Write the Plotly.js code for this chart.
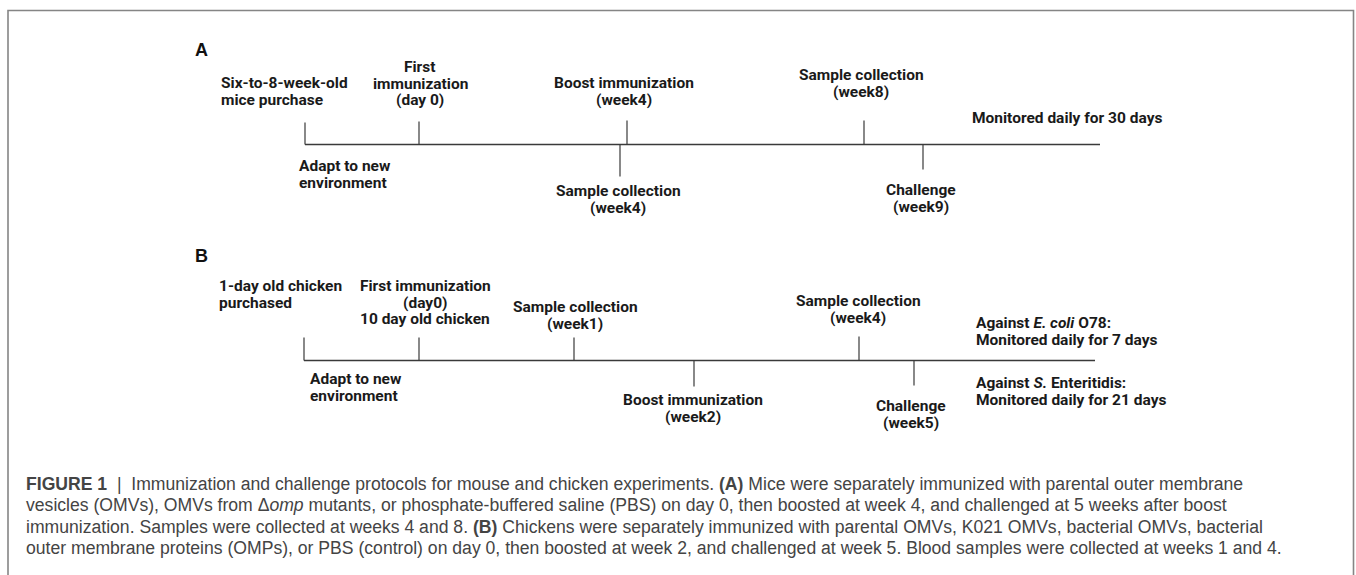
<!DOCTYPE html>
<html>
<head>
<meta charset="utf-8">
<script src="https://cdn.plot.ly/plotly-3.0.1.min.js"></script>
<style>html,body{margin:0;padding:0;background:#fff;}#chart{width:1356px;height:575px;}</style>
</head>
<body>
<div id="chart"></div>
<script>
// ---------- DATA ----------
// Panel A (mouse) timeline: event labels and their positions along the timeline
const eventsA = ["Six-to-8-week-old\nmice purchase", "First\nimmunization\n(day 0)", "Sample collection\n(week4)", "Boost immunization\n(week4)", "Sample collection\n(week8)", "Challenge\n(week9)"];
const eventsA_pos = [305, 419, 620, 627, 864, 923];
const eventsA_side = ["up", "up", "down", "up", "up", "down"];
const timelineA = [305, 1100];
const notesA = ["Adapt to new\nenvironment", "Monitored daily for 30 days"];

// Panel B (chicken) timeline
const eventsB = ["1-day old chicken\npurchased", "First immunization\n(day0)\n10 day old chicken", "Sample collection\n(week1)", "Boost immunization\n(week2)", "Sample collection\n(week4)", "Challenge\n(week5)"];
const eventsB_pos = [304, 419, 574, 694, 859, 914];
const eventsB_side = ["up", "up", "up", "down", "up", "down"];
const timelineB = [304, 1095];
const notesB = ["Adapt to new\nenvironment", "Against <i>E. coli</i> O78:\nMonitored daily for 7 days", "Against <i>S.</i> Enteritidis:\nMonitored daily for 21 days"];

const panelLabels = ["A", "B"];
const captionLines = [
  "<b>FIGURE 1</b>  |  Immunization and challenge protocols for mouse and chicken experiments. <b>(A)</b> Mice were separately immunized with parental outer membrane",
  "vesicles (OMVs), OMVs from Δ<i>omp</i> mutants, or phosphate-buffered saline (PBS) on day 0, then boosted at week 4, and challenged at 5 weeks after boost",
  "immunization. Samples were collected at weeks 4 and 8. <b>(B)</b> Chickens were separately immunized with parental OMVs, K021 OMVs, bacterial OMVs, bacterial",
  "outer membrane proteins (OMPs), or PBS (control) on day 0, then boosted at week 2, and challenged at week 5. Blood samples were collected at weeks 1 and 4."
];

// ---------- PLACEMENT / STYLE ----------
const LINE_STEP = 16.7;
const FONT_FAMILY = "Roboto, 'Liberation Sans', Arial, sans-serif";
const FONT_SIZE = 15.5;
const TXT = "#1a1a1a";
const LINE_COLOR = "#3a3a3a";

const panels = [
  {
    events: eventsA, pos: eventsA_pos, side: eventsA_side, tl: timelineA, notes: notesA,
    baseY: 144.5, label: {x: 193, y: 50},
    tickLen: [22, 23, 32, 24, 24, 25],
    text: [
      {x: 219, y: 83, align: "left"}, {x: 420, y: 67, align: "center"}, {x: 618, y: 191, align: "center"},
      {x: 624, y: 83, align: "center"}, {x: 861, y: 75, align: "center"}, {x: 921, y: 190, align: "center"}
    ],
    noteText: [{x: 297, y: 166, align: "left"}, {x: 970, y: 118, align: "left"}]
  },
  {
    events: eventsB, pos: eventsB_pos, side: eventsB_side, tl: timelineB, notes: notesB,
    baseY: 360.5, label: {x: 193, y: 256},
    tickLen: [23, 23, 23, 26, 24, 25],
    text: [
      {x: 217, y: 286, align: "left"}, {x: 425, y: 286, align: "center"}, {x: 575, y: 307, align: "center"},
      {x: 693, y: 400, align: "center"}, {x: 858, y: 301, align: "center"}, {x: 911, y: 406, align: "center"}
    ],
    noteText: [{x: 308, y: 379, align: "left"}, {x: 974, y: 323, align: "left"}, {x: 974, y: 383, align: "left"}]
  }
];

const traces = [];
const annotations = [];

function addLabel(text, place) {
  const lines = text.split("\n");
  lines.forEach((ln, i) => {
    annotations.push({
      xref: "x", yref: "y", x: place.x, y: place.y + i * LINE_STEP,
      text: ln, showarrow: false,
      xanchor: place.align === "left" ? "left" : "center", yanchor: "middle",
      align: place.align,
      font: {family: FONT_FAMILY, size: FONT_SIZE, color: TXT, weight: "bold"}
    });
  });
}

panels.forEach((p, k) => {
  traces.push({
    type: "scatter", mode: "lines", x: p.tl, y: [p.baseY, p.baseY],
    line: {color: LINE_COLOR, width: 1.4}, hoverinfo: "skip", showlegend: false
  });
  const tx = [], ty = [];
  p.pos.forEach((v, i) => {
    const dir = p.side[i] === "up" ? -1 : 1;
    tx.push(v, v, null);
    ty.push(p.baseY, p.baseY + dir * p.tickLen[i], null);
  });
  traces.push({
    type: "scatter", mode: "lines", x: tx, y: ty,
    line: {color: LINE_COLOR, width: 1.2}, hoverinfo: "skip", showlegend: false
  });
  p.events.forEach((e, i) => addLabel(e, p.text[i]));
  p.notes.forEach((n, i) => addLabel(n, p.noteText[i]));
  annotations.push({
    xref: "x", yref: "y", x: p.label.x, y: p.label.y, text: "<b>" + panelLabels[k] + "</b>",
    showarrow: false, xanchor: "left", yanchor: "middle",
    font: {family: "'Liberation Sans', Arial, sans-serif", size: 18, color: "#111"}
  });
});

captionLines.forEach((c, i) => {
  annotations.push({
    xref: "x", yref: "y", x: 24, y: 484 + i * 21.4, text: c, showarrow: false,
    xanchor: "left", yanchor: "middle", align: "left",
    font: {family: "'Liberation Sans', Arial, sans-serif", size: 17.6, color: "#444"}
  });
});

const layout = {
  width: 1356, height: 575,
  margin: {l: 0, r: 0, t: 0, b: 0},
  paper_bgcolor: "#fff", plot_bgcolor: "#fff",
  xaxis: {range: [0, 1356], visible: false, fixedrange: true},
  yaxis: {range: [575, 0], visible: false, fixedrange: true},
  showlegend: false,
  annotations: annotations,
  shapes: [{
    type: "rect", xref: "x", yref: "y", x0: 8, x1: 1353.5, y0: 10.5, y1: 600,
    line: {color: "#858585", width: 1.6}
  }]
};

Plotly.newPlot("chart", traces, layout, {displayModeBar: false, staticPlot: true});
</script>
</body>
</html>
